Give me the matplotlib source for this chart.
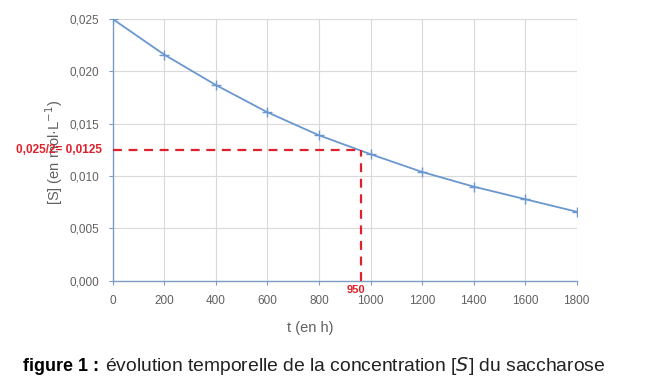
import numpy as np
from matplotlib import pyplot as plt

# data
t_h    = [0, 200, 400, 600, 800, 1000, 1200, 1400, 1600, 1800]
S_conc = [0.0250, 0.0216, 0.0187, 0.0161, 0.0139, 0.0121, 0.0104, 0.0090, 0.0078, 0.0066]
half_c = 0.0125
half_t = 965          # where the dashed line sits in the picture
half_lbl = "950"
xticks = list(range(0, 1801, 200))
yticks = [0.000, 0.005, 0.010, 0.015, 0.020, 0.025]

plt.rcParams['font.family'] = ['Liberation Sans', 'DejaVu Sans']

fig = plt.figure(figsize=(6.48, 3.89), dpi=100)
ax  = fig.add_axes([0.174, 0.278, 0.716, 0.673])

ax.plot(t_h, S_conc, color='#6a97cf', lw=1.3, marker='+', ms=7, mew=1.0, zorder=3)

ax.plot([0, half_t], [half_c, half_c], color='#e0202a', lw=1.6, ls=(0, (4, 3)), zorder=4, clip_on=False)
ax.plot([half_t, half_t], [0, half_c], color='#e0202a', lw=1.6, ls=(0, (4, 3)), zorder=4, clip_on=False)

ax.set_xlim(0, 1800)
ax.set_ylim(0, 0.025)
ax.set_xticks(xticks)
ax.set_yticks(yticks)
ax.set_yticklabels([f"{v:.3f}".replace('.', ',') for v in yticks])
ax.grid(True, color='#d9d9d9', lw=0.8)
ax.set_axisbelow(True)

for s in ['top', 'right']:
    ax.spines[s].set_visible(False)
for s in ['left', 'bottom']:
    ax.spines[s].set_color('#7f9cc4')
    ax.spines[s].set_linewidth(1.0)
ax.tick_params(axis='both', colors='#7f9cc4', labelcolor='#606060', labelsize=8.5, length=3, width=0.8)
ax.tick_params(axis='y', pad=7)
ax.tick_params(axis='x', pad=7)

ax.set_xlabel("t (en h)", color='#606060', fontsize=10.5, va='center')
ax.xaxis.set_label_coords(0.425, -0.179)
ax.set_ylabel("[S] (en mol·L$^{-1}$)", color='#606060', fontsize=10.5, va='center')
ax.yaxis.set_label_coords(-0.127, 0.492)

ax.text(-40, half_c, "0,025/2= 0,0125", color='#e0202a', fontsize=8.5, fontweight='bold',
        ha='right', va='center', clip_on=False)
ax.text(half_t - 20, -0.0004, half_lbl, color='#e0202a', fontsize=8, fontweight='bold',
        ha='center', va='top', clip_on=False)

cap = fig.text(0.036, 0.058, "figure 1 :", fontsize=13, fontweight='bold', color='black', va='center')
ax.annotate("évolution temporelle de la concentration [$S$] du saccharose",
            xy=(1, 0.5), xycoords=cap, xytext=(4, 0), textcoords='offset points',
            fontsize=13.9, color='#222222', va='center')

fig.savefig("out.png", dpi=100)
